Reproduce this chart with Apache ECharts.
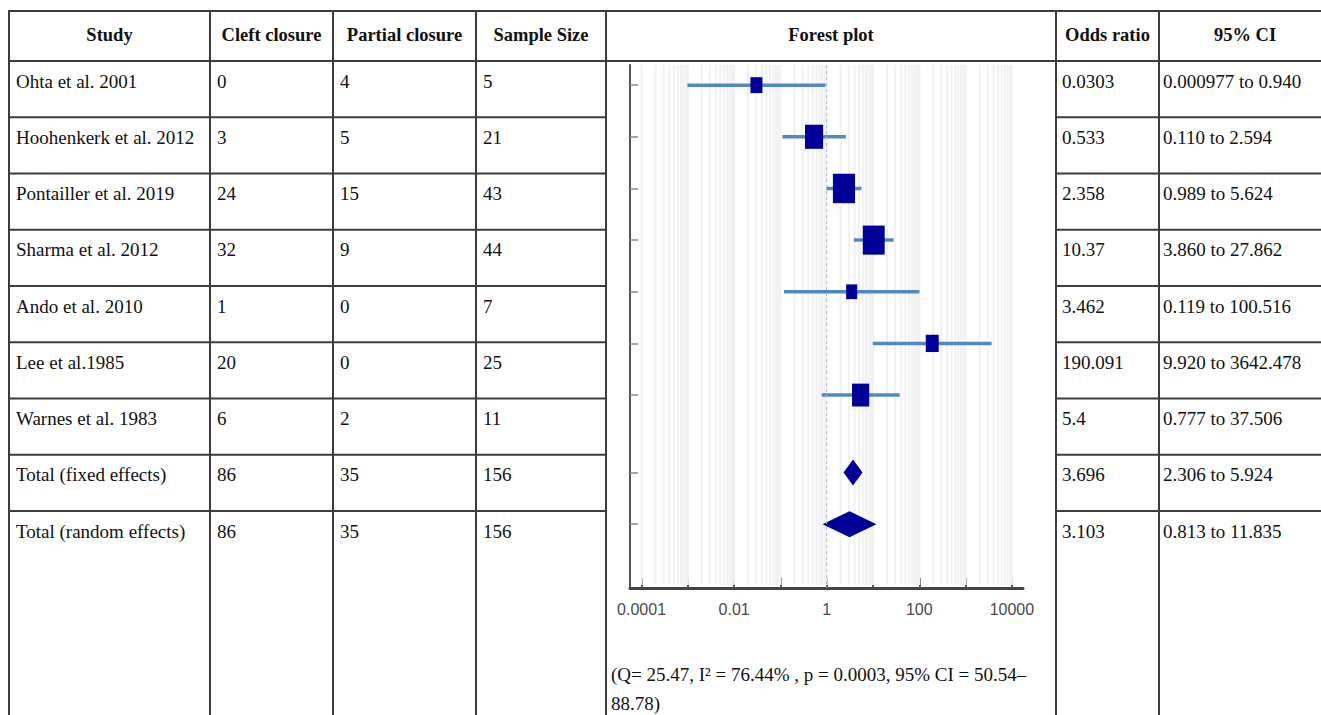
<!DOCTYPE html>
<html>
<head>
<meta charset="utf-8">
<script src="https://cdn.jsdelivr.net/npm/echarts@6/dist/echarts.min.js"></script>
<style>
html,body{margin:0;padding:0;background:#fff;}
#chart{width:1321px;height:715px;}
</style>
</head>
<body>
<div id="chart"></div>
<script>
// ---------- data ----------
const headers = ['Study', 'Cleft closure', 'Partial closure', 'Sample Size', 'Forest plot', 'Odds ratio', '95% CI'];
const studies = ['Ohta et al. 2001', 'Hoohenkerk et al. 2012', 'Pontailler et al. 2019', 'Sharma et al. 2012',
  'Ando et al. 2010', 'Lee et al.1985', 'Warnes et al. 1983', 'Total (fixed effects)', 'Total (random effects)'];
const cleftClosure = [0, 3, 24, 32, 1, 20, 6, 86, 86];
const partialClosure = [4, 5, 15, 9, 0, 0, 2, 35, 35];
const sampleSize = [5, 21, 43, 44, 7, 25, 11, 156, 156];
const oddsRatio = [0.0303, 0.533, 2.358, 10.37, 3.462, 190.091, 5.4, 3.696, 3.103];
const ciLow = [0.000977, 0.110, 0.989, 3.860, 0.119, 9.920, 0.777, 2.306, 0.813];
const ciHigh = [0.940, 2.594, 5.624, 27.862, 100.516, 3642.478, 37.506, 5.924, 11.835];
const studyWeights = [7.1, 16.2, 24.2, 23.6, 6.1, 8.3, 14.6];   // relative weight (%) of each study box
const xTickLabels = ['0.0001', '0.01', '1', '100', '10000'];
const xTickDecades = [0.0001, 0.001, 0.01, 0.1, 1, 10, 100, 1000, 10000];
const heterogeneity = ['(Q= 25.47, I\u00b2 = 76.44% , p = 0.0003, 95% CI = 50.54\u2013', '88.78)'];

// ---------- layout ----------
const colEdges = [9, 210, 333, 476, 606, 1056, 1159, 1331];
const tableTop = 11, headerBottom = 61, rowH = 56.25;
const lineColor = '#3c3c3c';
const serif = '"Liberation Serif", "Times New Roman", serif';
const nStudies = 7;
const rowPos = studies.map((_, i) => i < nStudies ? i : i + 0.5);
const lg = v => Math.log10(v);

const fmtCI = v => v < 0.01 ? String(v) : v.toFixed(3);

// ---------- table graphics ----------
const g = [];
function hline(y, x1, x2) {
  g.push({type: 'line', silent: true, shape: {x1: x1, y1: y, x2: x2, y2: y}, style: {stroke: lineColor, lineWidth: 2}});
}
function vline(x, y1, y2) {
  g.push({type: 'line', silent: true, shape: {x1: x, y1: y1, x2: x, y2: y2}, style: {stroke: lineColor, lineWidth: 2}});
}
function txt(s, x, y, bold, align) {
  g.push({type: 'text', silent: true, style: {
    text: s, x: x, y: y, fill: '#111',
    font: (bold ? 'bold 18.5px ' : '19px ') + serif,
    align: align, textAlign: align, verticalAlign: 'middle', textVerticalAlign: 'middle'
  }});
}
hline(tableTop, colEdges[0] - 1, 1321);
hline(headerBottom, colEdges[0] - 1, 1321);
for (let k = 1; k <= studies.length - 1; k++) {
  const y = headerBottom + rowH * k;
  hline(y, colEdges[0] - 1, colEdges[4]);
  hline(y, colEdges[5], 1321);
}
for (let c = 0; c < colEdges.length - 1; c++) vline(colEdges[c], tableTop - 1, 715);

headers.forEach((h, c) => txt(h, (colEdges[c] + colEdges[c + 1]) / 2, 35, true, 'center'));
studies.forEach((s, i) => {
  const y = headerBottom + rowH * i + 20;
  const cells = [s, String(cleftClosure[i]), String(partialClosure[i]), String(sampleSize[i])];
  cells.forEach((t, c) => txt(t, colEdges[c] + 7, y, false, 'left'));
  txt(String(oddsRatio[i]), colEdges[5] + 6, y, false, 'left');
  txt(fmtCI(ciLow[i]) + ' to ' + fmtCI(ciHigh[i]), colEdges[6] + 4, y, false, 'left');
});
txt(heterogeneity[0], 611, 674, false, 'left');
txt(heterogeneity[1], 611, 703, false, 'left');

// ---------- forest plot ----------
const minorGrid = [];
for (let d = 0; d < xTickDecades.length - 1; d++) {
  for (let m = 1; m <= 9; m++) minorGrid.push([lg(xTickDecades[d] * m)]);
}
minorGrid.push([lg(xTickDecades[xTickDecades.length - 1])]);

const xLabelLogs = xTickLabels.map(s => lg(Number(s)));
const xTickLogs = xTickDecades.map(lg);

const boxData = [];
const ciData = [];
for (let i = 0; i < nStudies; i++) {
  const w = 4.5 * Math.sqrt(studyWeights[i]);
  boxData.push({value: [lg(oddsRatio[i]), rowPos[i]], symbolSize: [w, w * 1.33]});
  ciData.push([lg(ciLow[i]), lg(ciHigh[i]), rowPos[i]]);
}
const diamondData = [];
for (let i = nStudies; i < studies.length; i++) {
  diamondData.push([lg(ciLow[i]), lg(oddsRatio[i]), lg(ciHigh[i]), rowPos[i]]);
}

const option = {
  animation: false,
  backgroundColor: '#fff',
  graphic: {elements: g},
  grid: {left: 630, top: 65, width: 393, height: 523, containLabel: false},
  xAxis: {
    type: 'value', min: -4.25, max: 4.24, position: 'bottom',
    axisLine: {onZero: false, lineStyle: {color: '#444', width: 3}},
    axisTick: {inside: true, length: 10, customValues: xTickLogs, lineStyle: {color: '#555', width: 2}},
    axisLabel: {
      customValues: xLabelLogs, margin: 13, color: '#4a4a4a',
      fontFamily: '"Liberation Sans", Arial, sans-serif', fontSize: 16,
      formatter: v => {
        let best = 0;
        xLabelLogs.forEach((l, k) => { if (Math.abs(l - v) < Math.abs(xLabelLogs[best] - v)) best = k; });
        return xTickLabels[best];
      }
    },
    splitLine: {show: false}
  },
  yAxis: {
    type: 'value', inverse: true, min: -0.39, max: 9.735,
    axisLine: {show: true, onZero: false, lineStyle: {color: '#555', width: 2}},
    axisTick: {show: true, inside: true, length: 8, customValues: rowPos, lineStyle: {color: '#888', width: 1.5}},
    axisLabel: {show: false},
    splitLine: {show: false}
  },
  series: [
    {
      name: 'grid', type: 'custom', silent: true, z: 1,
      data: minorGrid,
      encode: {x: 0},
      renderItem: function (params, api) {
        const cs = params.coordSys;
        const x = api.coord([api.value(0), 0])[0];
        return {type: 'line', shape: {x1: x, y1: cs.y, x2: x, y2: cs.y + cs.height - 3},
          style: {stroke: '#f1f1f1', lineWidth: 2}};
      },
      markLine: {
        silent: true, symbol: 'none', label: {show: false},
        lineStyle: {type: [3, 3], color: '#a5c2de', width: 1},
        data: [{xAxis: 0}]
      }
    },
    {
      name: 'CI', type: 'custom', z: 3,
      data: ciData,
      encode: {x: [0, 1], y: 2},
      renderItem: function (params, api) {
        const p1 = api.coord([api.value(0), api.value(2)]);
        const p2 = api.coord([api.value(1), api.value(2)]);
        return {type: 'line', shape: {x1: p1[0], y1: p1[1], x2: p2[0], y2: p2[1]},
          style: {stroke: '#5088c4', lineWidth: 3.5}};
      }
    },
    {
      name: 'Odds ratio', type: 'scatter', z: 4,
      symbol: 'rect',
      itemStyle: {color: '#000099', opacity: 1},
      data: boxData
    },
    {
      name: 'Pooled', type: 'custom', z: 4,
      data: diamondData,
      encode: {x: [0, 1, 2], y: 3},
      renderItem: function (params, api) {
        const y = api.coord([0, api.value(3)])[1];
        const lo = api.coord([api.value(0), api.value(3)])[0];
        const mid = api.coord([api.value(1), api.value(3)])[0];
        const hi = api.coord([api.value(2), api.value(3)])[0];
        const h = 13;
        return {type: 'polygon', shape: {points: [[lo, y], [mid, y - h], [hi, y], [mid, y + h]]},
          style: {fill: '#000099'}};
      }
    }
  ]
};

const chart = echarts.init(document.getElementById('chart'), null, {renderer: 'svg'});
chart.setOption(option);
</script>
</body>
</html>
